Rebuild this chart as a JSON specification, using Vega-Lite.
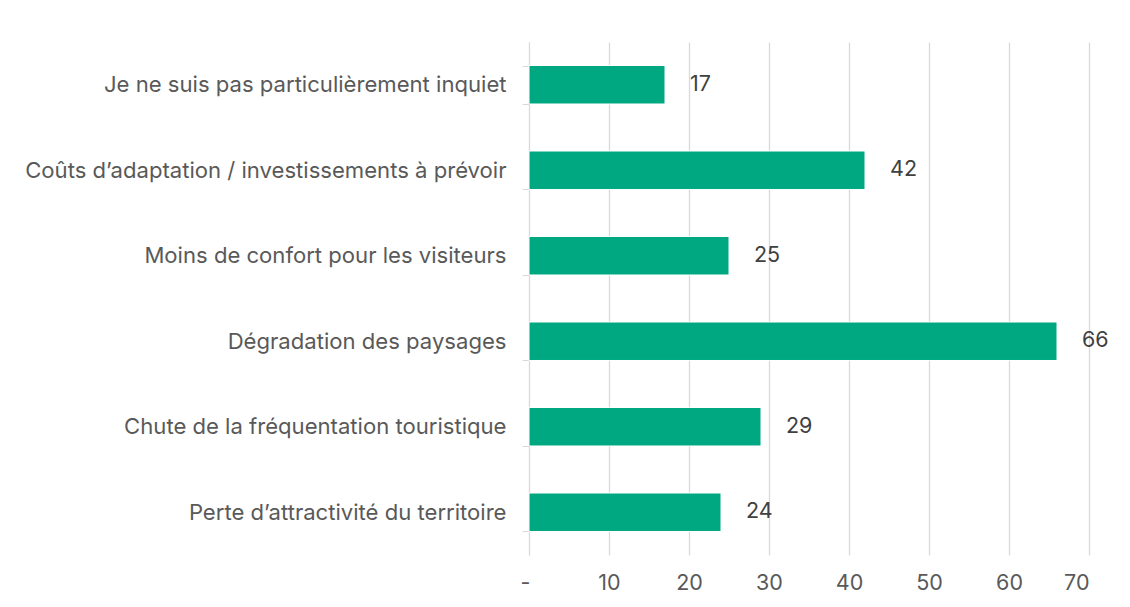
{
  "$schema": "https://vega.github.io/schema/vega-lite/v6.json",
  "autosize": {"type": "none"},
  "padding": {"left": 529, "top": 42, "right": 41, "bottom": 52},
  "width": 560,
  "height": 513,
  "background": "white",
  "config": {"view": {"stroke": null}, "font": "Inter"},
  "data": {"values": [
    {"cat": "Je ne suis pas particulièrement inquiet", "v": 17},
    {"cat": "Coûts d’adaptation / investissements à prévoir", "v": 42},
    {"cat": "Moins de confort pour les visiteurs", "v": 25},
    {"cat": "Dégradation des paysages", "v": 66},
    {"cat": "Chute de la fréquentation touristique", "v": 29},
    {"cat": "Perte d’attractivité du territoire", "v": 24}
  ]},
  "encoding": {
    "y": {"field": "cat", "type": "nominal", "sort": null, "title": null,
      "scale": {"paddingInner": 0.55, "paddingOuter": 0.275},
      "axis": {"tickBand": "extent", "tickSize": 7, "tickColor": "#d9d9d9", "domainColor": "#d9d9d9", "labelPadding": 16, "labelFontSize": 22.1, "labelColor": "#595959", "labelLimit": 600, "grid": false}},
    "x": {"field": "v", "type": "quantitative", "title": null,
      "scale": {"domain": [0, 70], "nice": false},
      "axis": {"values": [0, 10, 20, 30, 40, 50, 60, 70], "labelExpr": "datum.value == 0 ? '-' : datum.label", "labelOffset": {"condition": {"test": "datum.value == 0", "value": -9}, "value": 0}, "domain": false, "ticks": false, "grid": true, "gridColor": "#d9d9d9", "gridWidth": 1.3, "labelPadding": 17, "labelFontSize": 21.5, "labelColor": "#595959"}}
  },
  "layer": [
    {"mark": {"type": "bar", "color": "#00A881", "stroke": "white", "strokeWidth": 1}},
    {"mark": {"type": "text", "align": "left", "dx": 25, "fontSize": 21.5, "color": "#404040"},
     "encoding": {"text": {"field": "v", "type": "quantitative"}}}
  ]
}
